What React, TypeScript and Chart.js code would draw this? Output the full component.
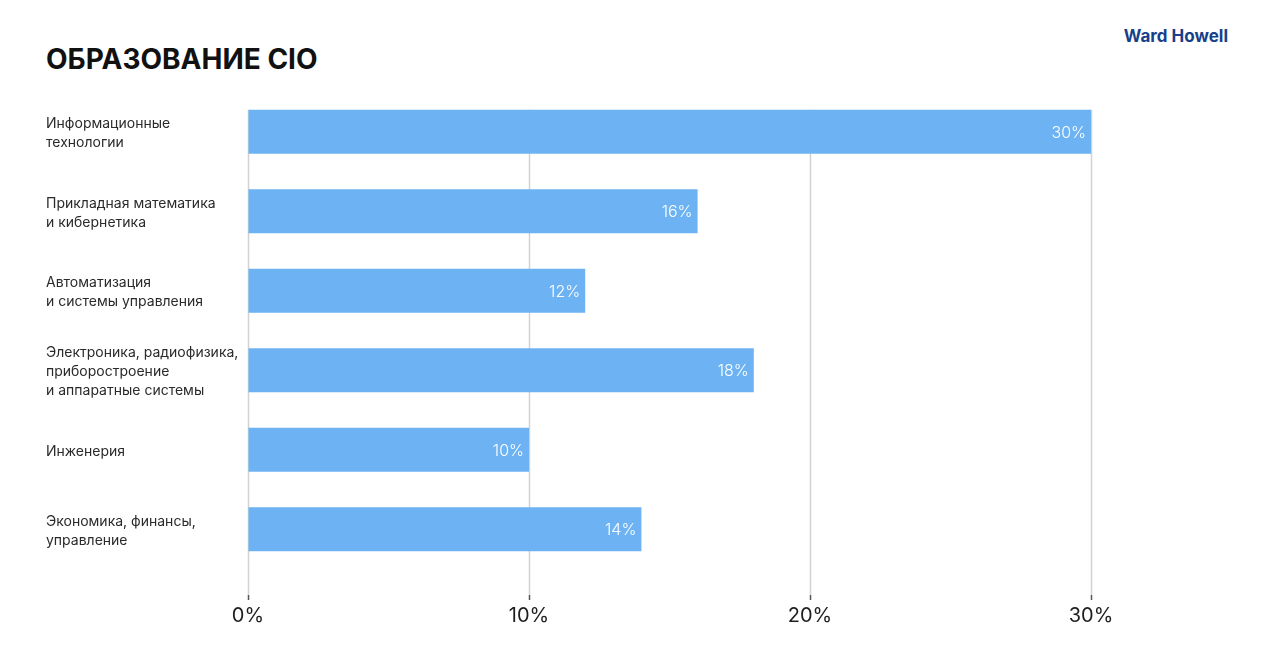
import React, { useEffect, useRef } from "react";
import { Chart, registerables } from "chart.js";

Chart.register(...registerables);

const TITLE = "ОБРАЗОВАНИЕ CIO";
const BRAND = "Ward Howell";
const categories: string[][] = [
  ["Информационные", "технологии"],
  ["Прикладная математика", "и кибернетика"],
  ["Автоматизация", "и системы управления"],
  ["Электроника, радиофизика,", "приборостроение", "и аппаратные системы"],
  ["Инженерия"],
  ["Экономика, финансы,", "управление"],
];
const shares: number[] = [30, 16, 12, 18, 10, 14];
const xTicks: number[] = [0, 10, 20, 30];

const BAR_COLOR = "#6db3f3";
const GRID_COLOR = "#d2d2d2";
const FONT = "Inter, 'Noto Sans', sans-serif";

const gridPlugin = {
  id: "customGrid",
  beforeDatasetsDraw(chart: any) {
    const xs = chart.scales.x;
    const meta = chart.getDatasetMeta(0);
    const first = meta.data[0];
    if (!first) return;
    const { y, height } = first.getProps(["y", "height"], true);
    const top = y - height / 2;
    const bottom = chart.chartArea.bottom + 31;
    const ctx = chart.ctx;
    ctx.save();
    ctx.lineWidth = 1.5;
    xs.ticks.forEach((t: any) => {
      const x = Math.round(xs.getPixelForValue(t.value)) + 0.5;
      ctx.strokeStyle = GRID_COLOR;
      ctx.beginPath();
      ctx.moveTo(x, top);
      ctx.lineTo(x, bottom - 5);
      ctx.stroke();
      ctx.strokeStyle = "#555555";
      ctx.beginPath();
      ctx.moveTo(x, bottom - 5);
      ctx.lineTo(x, bottom);
      ctx.stroke();
    });
    ctx.restore();
  },
};

const valueLabelPlugin = {
  id: "valueLabels",
  afterDatasetsDraw(chart: any) {
    const ctx = chart.ctx;
    const meta = chart.getDatasetMeta(0);
    const data = chart.data.datasets[0].data as number[];
    ctx.save();
    ctx.font = `300 16px ${FONT}`;
    ctx.fillStyle = "#ffffff";
    ctx.textAlign = "right";
    ctx.textBaseline = "middle";
    meta.data.forEach((el: any, i: number) => {
      const { x, y } = el.getProps(["x", "y"], true);
      ctx.fillText(`${data[i]}%`, x - 5, y + 1);
    });
    ctx.restore();
  },
};

export default function App() {
  const canvasRef = useRef<HTMLCanvasElement | null>(null);

  useEffect(() => {
    if (!canvasRef.current) return;
    const chart = new Chart(canvasRef.current, {
      type: "bar",
      data: {
        labels: categories,
        datasets: [
          {
            data: shares,
            backgroundColor: BAR_COLOR,
            borderWidth: 0,
            categoryPercentage: 1,
            barPercentage: 0.555,
          },
        ],
      },
      options: {
        indexAxis: "y",
        animation: false,
        responsive: true,
        maintainAspectRatio: false,
        layout: { padding: { left: 46, right: 189, top: 92, bottom: 0 } },
        plugins: {
          legend: { display: false },
          tooltip: { enabled: false },
          title: { display: false },
        },
        scales: {
          x: {
            type: "linear",
            min: 0,
            max: 30,
            afterBuildTicks: (scale: any) => {
              scale.ticks = xTicks.map((v) => ({ value: v }));
            },
            afterFit: (scale: any) => {
              scale.height = 102;
            },
            grid: {
              display: true,
              drawOnChartArea: false,
              tickLength: 31,
              tickColor: "rgba(0,0,0,0)",
            },
            border: { display: false },
            ticks: {
              padding: 4,
              color: "#1e1e1e",
              font: { family: FONT, size: 20, weight: 400 },
              callback: (v: any) => `${v}%`,
            },
          },
          y: {
            grid: { display: false },
            border: { display: false },
            afterFit: (scale: any) => {
              scale.width = 202;
            },
            ticks: {
              crossAlign: "far",
              labelOffset: 2,
              color: "#2a2a2a",
              font: { family: FONT, size: 14, weight: 400, lineHeight: 1.36 },
              autoSkip: false,
            },
          },
        },
      },
      plugins: [gridPlugin, valueLabelPlugin],
    } as any);
    return () => chart.destroy();
  }, []);

  return (
    <div
      style={{
        position: "fixed",
        left: 0,
        top: 0,
        width: 1280,
        height: 671,
        background: "#ffffff",
        fontFamily: FONT,
      }}
    >
      <div
        style={{
          position: "absolute",
          left: 46,
          top: 45,
          fontSize: 28,
          lineHeight: "28px",
          fontWeight: 700,
          letterSpacing: 0,
          color: "#111111",
          whiteSpace: "nowrap",
        }}
      >
        {TITLE}
      </div>
      <div
        style={{
          position: "absolute",
          right: 52,
          top: 28,
          fontSize: 17,
          lineHeight: "17px",
          fontWeight: 700,
          color: "#173f8a",
          whiteSpace: "nowrap",
        }}
      >
        {BRAND}
      </div>
      <canvas ref={canvasRef} style={{ position: "absolute", left: 0, top: 0, width: 1280, height: 671 }} />
    </div>
  );
}
